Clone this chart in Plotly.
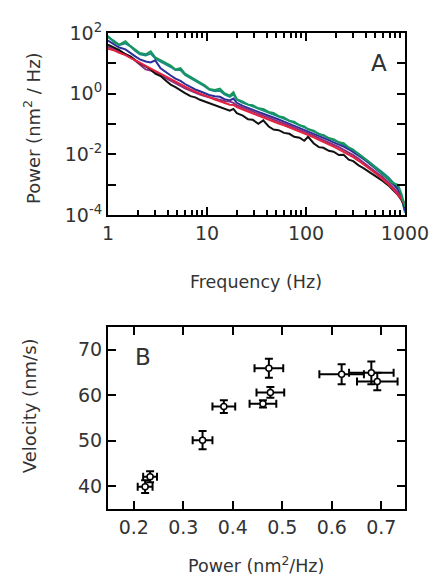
import plotly.graph_objects as go

# ---------------- Panel A data (power spectra) ----------------
freq_hz = [1, 1.15, 1.3, 1.5, 1.7, 1.9, 2.1, 2.4, 2.7, 3.0, 3.4, 3.8, 4.3, 4.8, 5.4, 6.0,
           6.8, 7.6, 8.5, 9.5, 10.5, 12, 13.5, 15, 17, 18.5, 20, 23, 26, 29, 33, 37,
           42, 47, 53, 60, 68, 76, 86, 96, 105, 120, 135, 150, 170, 190, 215, 240,
           270, 300, 340, 380, 430, 480, 540, 600, 680, 760, 850, 920, 1000]

# log10 of power (nm^2/Hz)
black_log10 = [1.62, 1.52, 1.44, 1.30, 1.22, 1.10, 1.00, 0.90, 0.80, 0.66, 0.58, 0.44, 0.30, 0.22,
               0.10, 0.02, -0.08, -0.12, -0.20, -0.26, -0.30, -0.37, -0.44, -0.50, -0.56, -0.50,
               -0.64, -0.72, -0.84, -0.86, -0.99, -0.88, -1.08, -1.18, -1.20, -1.29, -1.32, -1.42,
               -1.45, -1.55, -1.42, -1.64, -1.76, -1.78, -1.88, -1.91, -2.02, -2.01, -2.17, -2.22,
               -2.36, -2.45, -2.56, -2.66, -2.77, -2.88, -3.02, -3.17, -3.34, -3.50, -3.72]
red_log10 = [1.48, 1.43, 1.35, 1.27, 1.17, 1.10, 1.02, 0.92, 0.83, 0.74, 0.66, 0.57, 0.47, 0.39,
             0.30, 0.23, 0.14, 0.07, 0.00, -0.06, -0.12, -0.19, -0.25, -0.30, -0.36, -0.37,
             -0.44, -0.52, -0.59, -0.66, -0.73, -0.79, -0.86, -0.92, -0.98, -1.04, -1.11, -1.18,
             -1.26, -1.32, -1.37, -1.44, -1.52, -1.58, -1.66, -1.74, -1.83, -1.91, -2.00, -2.09,
             -2.21, -2.32, -2.45, -2.57, -2.70, -2.82, -2.98, -3.14, -3.32, -3.47, -3.68]
purple_log10 = [1.55, 1.48, 1.40, 1.30, 1.20, 1.08, 0.96, 0.80, 0.76, 0.70, 0.62, 0.52, 0.42, 0.34,
                0.26, 0.18, 0.10, 0.03, -0.03, -0.08, -0.12, -0.17, -0.20, -0.24, -0.26, -0.30,
                -0.38, -0.46, -0.53, -0.60, -0.67, -0.73, -0.80, -0.86, -0.92, -0.98, -1.05, -1.12,
                -1.19, -1.25, -1.30, -1.38, -1.46, -1.52, -1.60, -1.68, -1.76, -1.84, -1.93, -2.02,
                -2.14, -2.26, -2.39, -2.51, -2.64, -2.76, -2.92, -3.08, -3.26, -3.42, -3.64]
blue_log10 = [1.75, 1.64, 1.52, 1.46, 1.32, 1.22, 1.13, 1.06, 1.03, 1.10, 0.84, 0.72, 0.60, 0.50,
              0.42, 0.32, 0.22, 0.14, 0.08, 0.02, -0.04, -0.08, -0.10, -0.18, -0.22, -0.16,
              -0.30, -0.40, -0.46, -0.53, -0.60, -0.66, -0.72, -0.79, -0.85, -0.92, -0.99, -1.06,
              -1.13, -1.20, -1.25, -1.32, -1.40, -1.46, -1.53, -1.60, -1.67, -1.74, -1.83, -1.92,
              -2.03, -2.15, -2.28, -2.41, -2.54, -2.66, -2.82, -2.98, -3.16, -3.40, -3.85]
teal_log10 = [1.86, 1.74, 1.60, 1.66, 1.55, 1.40, 1.30, 1.26, 1.32, 1.16, 1.06, 0.98, 0.88, 0.78,
              0.78, 0.62, 0.52, 0.44, 0.34, 0.24, 0.14, 0.08, 0.10, -0.02, -0.10, -0.02,
              -0.20, -0.30, -0.36, -0.42, -0.48, -0.54, -0.60, -0.67, -0.74, -0.81, -0.89, -0.96,
              -1.04, -1.11, -1.17, -1.25, -1.33, -1.39, -1.47, -1.53, -1.60, -1.68, -1.77, -1.87,
              -1.98, -2.10, -2.22, -2.36, -2.48, -2.60, -2.76, -2.92, -3.10, -3.40, -3.92]
green_log10 = [1.90, 1.70, 1.62, 1.73, 1.56, 1.44, 1.34, 1.30, 1.40, 1.20, 1.10, 1.02, 0.93, 0.80,
               0.84, 0.66, 0.56, 0.48, 0.38, 0.28, 0.16, 0.12, 0.17, 0.02, -0.06, 0.05,
               -0.18, -0.26, -0.36, -0.38, -0.48, -0.50, -0.60, -0.63, -0.74, -0.78, -0.90, -0.92,
               -1.04, -1.08, -1.17, -1.22, -1.34, -1.36, -1.47, -1.50, -1.60, -1.63, -1.77, -1.84,
               -1.99, -2.10, -2.24, -2.38, -2.52, -2.64, -2.80, -2.95, -3.00, -3.30, -3.72]

a_xtick_vals = [1, 10, 100, 1000]
a_xtick_text = ["1", "10", "100", "1000"]
a_xminor_vals = [2, 3, 4, 5, 6, 7, 8, 9, 20, 30, 40, 50, 60, 70, 80, 90,
                 200, 300, 400, 500, 600, 700, 800, 900]
a_ytick_vals = [1e2, 1e0, 1e-2, 1e-4]
a_ytick_text = ["10<sup>2</sup>", "10<sup>0</sup>", "10<sup>-2</sup>", "10<sup>-4</sup>"]
a_yminor_vals = [1e1, 1e-1, 1e-3]

# ---------------- Panel B data ----------------
pb_power = [0.223, 0.233, 0.339, 0.382, 0.461, 0.476, 0.473, 0.620, 0.680, 0.692]
pb_velocity = [39.9, 42.1, 50.1, 57.5, 58.1, 60.6, 65.9, 64.6, 64.9, 63.0]
pb_power_err = [0.015, 0.014, 0.020, 0.023, 0.027, 0.028, 0.029, 0.045, 0.045, 0.041]
pb_velocity_err = [1.4, 1.2, 2.0, 1.4, 0.8, 1.2, 2.1, 2.2, 2.5, 1.9]
b_xtick_vals = [0.2, 0.3, 0.4, 0.5, 0.6, 0.7]
b_ytick_vals = [40, 50, 60, 70]

FONT = "DejaVu Sans"
TXT = "#333333"

# page has an 8 px body margin; figure is sized so the plot boxes land where the reference has them
FIG_W, FIG_H = 433, 570
ML, MR, MT, MB = 100, 32, 15, 69
PW = FIG_W - ML - MR
PH = FIG_H - MT - MB


def page_to_paper(px, py):
    return (px - 8 - ML) / PW, (FIG_H - MB - (py - 8)) / PH


fig = go.Figure()

curves = [
    ("teal", teal_log10, "#1a8a8c"),
    ("blue", blue_log10, "#2b2f9a"),
    ("purple", purple_log10, "#8a2f7e"),
    ("black", black_log10, "#111111"),
    ("red", red_log10, "#e3223f"),
    ("green", green_log10, "#16965c"),
]
for name, vals, col in curves:
    fig.add_trace(go.Scatter(
        x=freq_hz, y=[10 ** v for v in vals], mode="lines", name=name,
        line=dict(color=col, width=2), xaxis="x", yaxis="y", showlegend=False))

fig.add_trace(go.Scatter(
    x=pb_power, y=pb_velocity, mode="markers", xaxis="x2", yaxis="y2", showlegend=False,
    marker=dict(symbol="circle", size=6, color="white", line=dict(color="black", width=1.5)),
    error_x=dict(type="data", array=pb_power_err, color="black", thickness=2, width=4),
    error_y=dict(type="data", array=pb_velocity_err, color="black", thickness=2, width=4)))

axis_common = dict(showline=True, linecolor="black", linewidth=2, mirror="allticks",
                   ticks="inside", tickcolor="black", tickwidth=2, ticklen=8,
                   showgrid=False, zeroline=False,
                   tickfont=dict(family=FONT, size=19, color=TXT))

annots = [
    dict(text="A", x=0.945, y=0.916, xref="x domain", yref="y domain",
         xanchor="right", yanchor="top", showarrow=False,
         font=dict(family=FONT, size=23, color=TXT)),
    dict(text="B", x=0.085, y=0.916, xref="x2 domain", yref="y2 domain",
         xanchor="left", yanchor="top", showarrow=False,
         font=dict(family=FONT, size=23, color=TXT)),
]
titles = [
    ("Frequency (Hz)", 258, 277, 0, 17.5),
    ("Power (nm<sup>2</sup> / Hz)", 31, 120, -90, 18),
    ("Power (nm<sup>2</sup>/Hz)", 258, 566, 0, 17.5),
    ("Velocity (nm/s)", 28, 404, -90, 18),
]
for text, px, py, ang, size in titles:
    xx, yy = page_to_paper(px, py)
    annots.append(dict(text=text, x=xx, y=yy, xref="paper", yref="paper",
                       xanchor="center", yanchor="middle", textangle=ang,
                       showarrow=False, font=dict(family=FONT, size=size, color=TXT)))

fig.update_layout(
    width=FIG_W, height=FIG_H,
    margin=dict(l=ML, r=MR, t=MT, b=MB),
    paper_bgcolor="white", plot_bgcolor="white",
    font=dict(family=FONT, color=TXT),
    xaxis=dict(type="log", range=[0, 3], domain=[0, 1], anchor="y",
               tickmode="array", tickvals=a_xtick_vals, ticktext=a_xtick_text,
               minor=dict(tickmode="array", tickvals=a_xminor_vals, ticks="inside",
                          ticklen=5, tickwidth=1.5, tickcolor="black", showgrid=False),
               **axis_common),
    yaxis=dict(type="log", range=[-4, 2], domain=[0.6173, 1], anchor="x",
               tickmode="array", tickvals=a_ytick_vals, ticktext=a_ytick_text,
               minor=dict(tickmode="array", tickvals=a_yminor_vals, ticks="inside",
                          ticklen=8, tickwidth=2, tickcolor="black", showgrid=False),
               **axis_common),
    xaxis2=dict(range=[0.148, 0.748], domain=[0, 1], anchor="y2",
                tickmode="array", tickvals=b_xtick_vals,
                ticktext=[f"{v:.1f}" for v in b_xtick_vals], **axis_common),
    yaxis2=dict(range=[35, 75], domain=[0, 0.3827], anchor="x2",
                tickmode="array", tickvals=b_ytick_vals, **axis_common),
    annotations=annots,
)

fig.write_html("out.html")
